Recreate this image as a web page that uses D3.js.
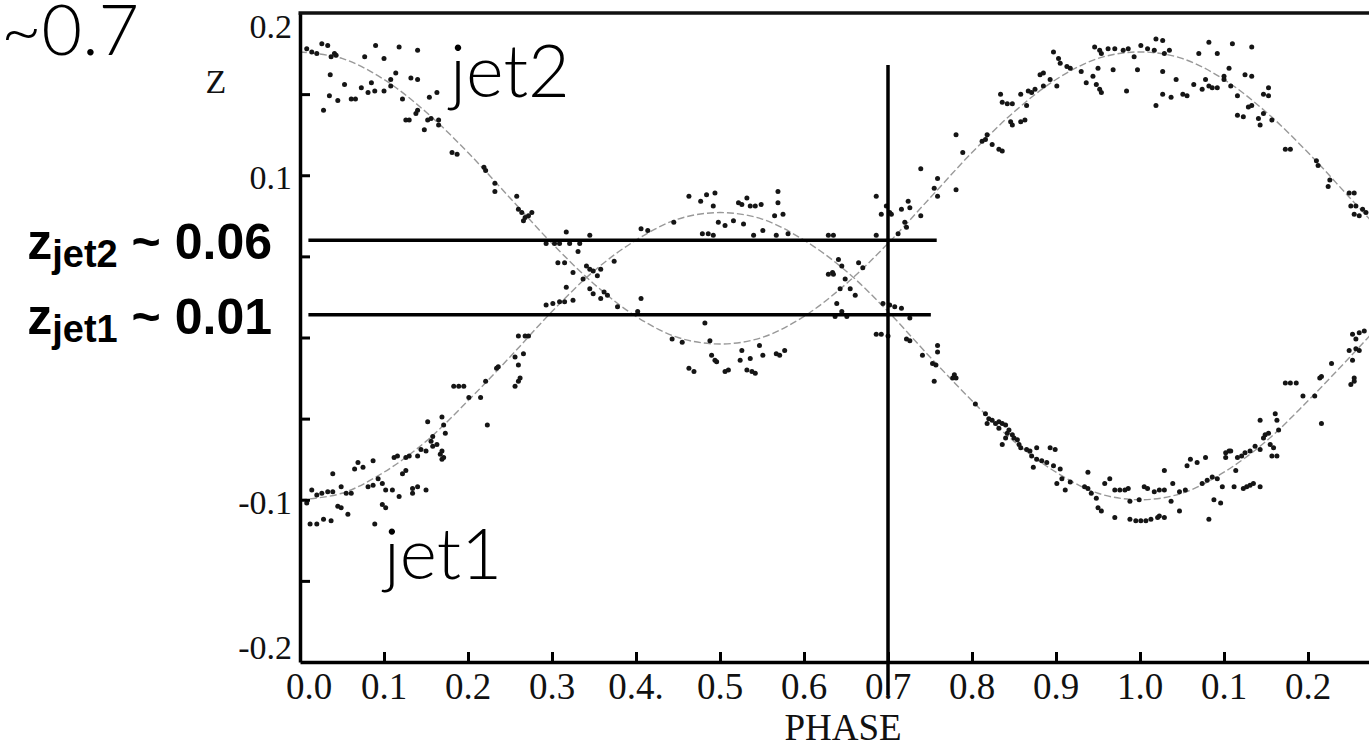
<!DOCTYPE html>
<html>
<head>
<meta charset="utf-8">
<script src="https://cdn.jsdelivr.net/npm/d3@7"></script>
<style>
  body { margin: 0; background: #fff; }
  svg { display: block; }
  .tick-label { font-family: "Liberation Serif", "Times New Roman", serif; fill: #111; }
  .thin { font-family: Lato, Roboto, "Open Sans", sans-serif; font-weight: 300; fill: #000; }
  .bold { font-family: "Liberation Sans", Arial, sans-serif; font-weight: 700; fill: #000; }
</style>
</head>
<body>
<svg id="svg1" width="1369" height="747"></svg>
<script>
// ---- data ----
const phaseTicks = [0, 0.1, 0.2, 0.3, 0.4, 0.5, 0.6, 0.7, 0.8, 0.9, 1.0, 1.1, 1.2];
const phaseTickLabels = ["0.0", "0.1", "0.2", "0.3", "0.4.", "0.5", "0.6", "0.7", "0.8", "0.9", "1.0", "0.1", "0.2"];
const zTicks = [-0.15, -0.1, -0.05, 0, 0.05, 0.1, 0.15];
const zLabelValues = [0.2, 0.1, -0.1, -0.2];
const zLabels = ["0.2", "0.1", "-0.1", "-0.2"];

// fitted model curves, sampled every 0.05 in phase
const fitPhase = [0, 0.05, 0.1, 0.15, 0.2, 0.25, 0.3, 0.35, 0.4, 0.45, 0.5, 0.55, 0.6, 0.65, 0.7,
  0.75, 0.8, 0.85, 0.9, 0.95, 1.0, 1.05, 1.1, 1.15, 1.2, 1.25, 1.3];
const jet2Fit = [0.176, 0.172, 0.159, 0.139, 0.114, 0.086, 0.058, 0.033, 0.013, 0.000, -0.004, 0.000, 0.013, 0.033,
  0.058, 0.086, 0.114, 0.139, 0.159, 0.172, 0.176, 0.172, 0.159, 0.139, 0.114, 0.086, 0.058];
const jet1Fit = [-0.100, -0.096, -0.083, -0.064, -0.039, -0.012, 0.016, 0.041, 0.060, 0.073, 0.077, 0.073, 0.060, 0.041,
  0.016, -0.012, -0.039, -0.064, -0.083, -0.096, -0.100, -0.096, -0.083, -0.064, -0.039, -0.012, 0.016];

// observed redshifts [phase, z]
const jet2Obs = [
  [0.008,0.178],[0.014,0.176],[0.020,0.175],[0.026,0.181],[0.033,0.180],[0.037,0.173],[0.041,0.175],[0.043,0.174],
  [0.077,0.173],[0.090,0.180],[0.100,0.172],[0.118,0.179],[0.140,0.177],[0.036,0.162],[0.053,0.156],[0.073,0.154],
  [0.085,0.157],[0.081,0.151],[0.089,0.152],[0.100,0.152],[0.108,0.159],[0.108,0.155],[0.114,0.163],[0.132,0.160],
  [0.140,0.159],[0.035,0.149],[0.045,0.146],[0.061,0.147],[0.066,0.147],[0.028,0.140],[0.122,0.147],[0.126,0.134],
  [0.130,0.134],[0.140,0.140],[0.138,0.138],[0.148,0.128],[0.152,0.134],[0.156,0.135],[0.165,0.131],[0.165,0.134],
  [0.154,0.148],[0.163,0.151],
  [0.181,0.114],[0.187,0.113],[0.219,0.105],[0.221,0.103],[0.232,0.095],[0.232,0.090],[0.258,0.087],[0.260,0.079],
  [0.264,0.077],[0.268,0.074],[0.266,0.072],[0.276,0.077],[0.272,0.075],
  [0.293,0.058],[0.303,0.058],[0.309,0.058],[0.321,0.058],[0.333,0.058],[0.317,0.065],[0.345,0.063],[0.331,0.053],
  [0.307,0.046],[0.315,0.046],[0.341,0.044],[0.345,0.042],[0.349,0.041],[0.358,0.042],[0.354,0.038],[0.345,0.030],
  [0.349,0.027],[0.362,0.028],[0.366,0.026],[0.378,0.019],[0.358,0.024],[0.402,0.016],[0.406,0.024],
  [0.443,-0.001],[0.455,-0.003],[0.482,0.009],[0.488,-0.002],[0.463,-0.019],[0.469,-0.021],[0.490,-0.011],[0.494,-0.014],
  [0.496,-0.015],[0.506,-0.021],[0.510,-0.020],[0.526,-0.008],[0.524,-0.014],[0.536,-0.013],[0.532,-0.020],[0.538,-0.021],
  [0.542,-0.022],[0.547,-0.005],[0.551,-0.011],[0.567,-0.010],[0.571,-0.011],[0.577,-0.008],[0.637,0.013],
  [0.686,0.087],[0.692,0.076],[0.698,0.081],[0.702,0.077],[0.704,0.076],[0.716,0.079],[0.724,0.084],[0.726,0.080],
  [0.720,0.071],[0.722,0.068],[0.712,0.064],[0.686,0.063],[0.739,0.075],
  [0.739,0.104],[0.759,0.098],[0.755,0.092],[0.759,0.087],[0.781,0.091],[0.781,0.125],[0.789,0.114],[0.812,0.121],
  [0.818,0.125],[0.816,0.122],[0.824,0.119],[0.832,0.116],[0.836,0.115],[0.834,0.150],[0.836,0.145],[0.842,0.144],
  [0.848,0.144],[0.858,0.150],[0.865,0.143],[0.846,0.133],[0.848,0.131],[0.858,0.133],[0.863,0.134],[0.867,0.152],
  [0.871,0.151],[0.875,0.153],[0.885,0.155],[0.881,0.162],[0.885,0.163],[0.893,0.159],[0.901,0.155],[0.897,0.176],
  [0.903,0.172],[0.905,0.169],[0.913,0.167],[0.917,0.166],[0.930,0.164],[0.936,0.157],[0.944,0.161],[0.948,0.156],
  [0.952,0.153],[0.954,0.151],[0.950,0.166],[0.968,0.165],[0.984,0.152],[0.997,0.165],
  [0.946,0.179],[0.952,0.177],[0.954,0.175],[0.962,0.178],[0.970,0.178],[0.980,0.177],[0.986,0.178],[0.993,0.173],
  [1.001,0.180],[1.009,0.178],[1.017,0.177],[1.019,0.184],[1.027,0.183],[1.029,0.175],[1.035,0.177],[1.027,0.164],
  [1.019,0.143],[1.027,0.150],[1.037,0.148],[1.043,0.159],[1.051,0.150],[1.056,0.149],[1.064,0.156],[1.070,0.175],
  [1.074,0.153],[1.078,0.159],[1.082,0.155],[1.082,0.182],[1.086,0.154],[1.092,0.175],[1.092,0.154],[1.100,0.161],
  [1.100,0.159],[1.106,0.166],[1.108,0.155],[1.110,0.181],[1.125,0.162],[1.133,0.179],[1.133,0.161],[1.116,0.149],
  [1.129,0.142],[1.133,0.143],[1.116,0.137],[1.123,0.136],[1.141,0.135],[1.143,0.131],[1.147,0.138],[1.147,0.150],
  [1.153,0.154],[1.153,0.149],[1.157,0.134],[1.173,0.116],[1.179,0.116],[1.210,0.109],[1.212,0.106],[1.224,0.093],
  [1.226,0.097],[1.249,0.089],[1.255,0.089],[1.251,0.081],[1.257,0.081],[1.255,0.076],[1.261,0.075],[1.265,0.079],
  [1.269,0.077]
];

const jet1Obs = [
  [0.008,-0.102],[0.014,-0.094],[0.020,-0.097],[0.026,-0.096],[0.033,-0.095],[0.039,-0.084],[0.039,-0.095],[0.049,-0.092],
  [0.055,-0.096],[0.061,-0.096],[0.065,-0.081],[0.069,-0.077],[0.075,-0.080],[0.087,-0.076],[0.081,-0.092],[0.087,-0.091],
  [0.093,-0.087],[0.098,-0.090],[0.102,-0.094],[0.110,-0.094],[0.112,-0.074],[0.116,-0.073],[0.118,-0.098],[0.122,-0.084],
  [0.126,-0.082],[0.126,-0.074],[0.130,-0.073],[0.134,-0.096],[0.134,-0.093],[0.140,-0.092],[0.144,-0.069],[0.140,-0.073],
  [0.150,-0.094],[0.150,-0.070],[0.156,-0.064],[0.158,-0.061],[0.158,-0.067],[0.163,-0.066],[0.167,-0.072],[0.169,-0.075],
  [0.171,-0.074],[0.169,-0.070],[0.169,-0.049],[0.171,-0.054],[0.173,-0.059],[0.152,-0.052],[0.012,-0.115],[0.020,-0.115],
  [0.028,-0.112],[0.037,-0.113],[0.045,-0.104],[0.049,-0.105],[0.057,-0.109],[0.098,-0.103],[0.102,-0.105],[0.089,-0.115],
  [0.183,-0.030],[0.189,-0.030],[0.195,-0.030],[0.201,-0.037],[0.215,-0.037],[0.221,-0.027],[0.223,-0.054],[0.234,-0.019],
  [0.236,-0.018],[0.256,-0.030],[0.260,-0.027],[0.262,-0.025],[0.260,-0.017],[0.256,-0.012],[0.266,-0.010],
  [0.260,0.001],[0.268,0.001],[0.272,0.001],
  [0.293,0.020],[0.301,0.021],[0.309,0.022],[0.315,0.022],[0.325,0.023],[0.317,0.031],[0.337,0.036],[0.325,0.040],
  [0.374,0.047],
  [0.406,0.067],[0.414,0.066],[0.445,0.071],[0.463,0.087],[0.477,0.084],[0.484,0.088],[0.494,0.089],[0.492,0.081],
  [0.479,0.064],[0.486,0.064],[0.492,0.063],[0.498,0.071],[0.506,0.069],[0.522,0.083],[0.526,0.082],[0.532,0.086],
  [0.536,0.081],[0.542,0.081],[0.549,0.082],[0.569,0.090],[0.569,0.083],[0.565,0.075],[0.575,0.076],[0.516,0.072],
  [0.528,0.070],[0.540,0.063],[0.551,0.066],[0.567,0.063],[0.581,0.064],[0.634,0.040],
  [0.629,0.063],[0.635,0.063],[0.629,0.039],[0.635,0.039],
  [0.641,0.048],[0.645,0.044],[0.649,0.036],[0.655,0.030],[0.661,0.026],[0.665,0.046],[0.670,0.043],[0.643,0.030],
  [0.639,0.021],[0.645,0.016],[0.651,0.013],[0.694,0.021],[0.702,0.020],[0.708,0.019],[0.716,0.018],[0.726,0.012],
  [0.686,0.002],[0.692,0.002],[0.700,0.001],[0.722,-0.001],[0.726,-0.002],
  [0.741,-0.011],[0.759,-0.005],[0.759,-0.009],[0.753,-0.016],[0.757,-0.017],[0.755,-0.027],[0.779,-0.023],[0.781,-0.025],
  [0.777,-0.025],[0.804,-0.041],[0.816,-0.047],[0.820,-0.050],[0.818,-0.053],[0.824,-0.051],[0.828,-0.053],[0.832,-0.052],
  [0.836,-0.053],[0.840,-0.054],[0.832,-0.056],[0.836,-0.066],[0.840,-0.062],[0.842,-0.059],[0.844,-0.057],[0.848,-0.060],
  [0.850,-0.062],[0.854,-0.063],[0.856,-0.066],[0.858,-0.068],[0.865,-0.069],[0.869,-0.070],[0.871,-0.073],[0.877,-0.068],
  [0.873,-0.080],[0.877,-0.075],[0.883,-0.076],[0.889,-0.077],[0.893,-0.068],[0.899,-0.069],[0.897,-0.079],[0.905,-0.081],
  [0.901,-0.090],[0.907,-0.087],[0.911,-0.094],[0.917,-0.089],[0.934,-0.092],[0.938,-0.083],[0.938,-0.093],[0.942,-0.096],
  [0.948,-0.099],[0.950,-0.105],[0.954,-0.107],[0.958,-0.090],[0.964,-0.087],[0.970,-0.094],[0.976,-0.094],[0.982,-0.094],
  [0.986,-0.093],[0.988,-0.101],[0.999,-0.100],[0.970,-0.111],[0.988,-0.112],[0.995,-0.113],[1.001,-0.113],[1.007,-0.113],
  [1.013,-0.112],[1.021,-0.111],[1.023,-0.110],[1.029,-0.111],[1.005,-0.092],[1.009,-0.093],[1.017,-0.095],[1.023,-0.094],
  [1.029,-0.094],[1.029,-0.082],[1.037,-0.101],[1.039,-0.090],[1.047,-0.107],[1.047,-0.095],[1.054,-0.094],[1.056,-0.079],
  [1.060,-0.075],[1.068,-0.077],[1.078,-0.074],[1.074,-0.090],[1.080,-0.088],[1.086,-0.086],[1.088,-0.100],[1.096,-0.102],
  [1.092,-0.087],[1.098,-0.092],[1.102,-0.071],[1.106,-0.070],[1.102,-0.074],[1.108,-0.070],[1.114,-0.082],[1.116,-0.074],
  [1.121,-0.073],[1.125,-0.071],[1.131,-0.070],[1.112,-0.092],[1.123,-0.093],[1.127,-0.092],[1.131,-0.091],[1.135,-0.090],
  [1.143,-0.092],[1.082,-0.112],[1.137,-0.067],[1.143,-0.069],[1.143,-0.051],[1.147,-0.062],[1.149,-0.060],[1.153,-0.059],
  [1.155,-0.066],[1.159,-0.068],[1.161,-0.047],[1.163,-0.051],[1.165,-0.057],[1.157,-0.073],[1.163,-0.073],[1.173,-0.028],
  [1.179,-0.028],[1.186,-0.028],[1.194,-0.036],[1.208,-0.036],[1.214,-0.025],[1.216,-0.024],[1.216,-0.053],[1.228,-0.016],
  [1.249,-0.008],[1.251,-0.029],[1.253,-0.014],[1.255,-0.025],[1.255,-0.027],[1.257,-0.007],[1.261,-0.008],[1.253,0.002],
  [1.261,0.003],[1.267,0.004],[1.257,-0.001]
];

// annotation: phase ~0.7 and the two redshift readings
const markerPhase = 0.7;
const markerZ = [0.06, 0.014];
const markerText = [["jet2", " ~ 0.06"], ["jet1", " ~ 0.01"]];

const svg1 = d3.select("#svg1");
const width1 = +svg1.attr("width");
const height1 = +svg1.attr("height");

const render = function() {
  const plotLeft = 300;   // left axis
  const xScale = d3.scaleLinear().domain([0, 1]).range([plotLeft, 1140]);
  const yScale = d3.scaleLinear().domain([-0.2, 0.2]).range([662, 13]);
  const xMax = xScale.invert(width1);

  svg1.append("clipPath").attr("id", "plotclip")
    .append("rect")
      .attr("x", plotLeft).attr("y", yScale(0.2))
      .attr("width", width1 - plotLeft).attr("height", yScale(-0.2) - yScale(0.2));

  const a = svg1.append("g");

  /* fitted curves, thin grey dashes */
  const fitLine = d3.line()
    .x((d, i) => xScale(fitPhase[i]))
    .y(d => yScale(d))
    .curve(d3.curveCatmullRom);

  const curves = a.append("g").attr("clip-path", "url(#plotclip)");
  [jet1Fit, jet2Fit].forEach(series => {
    curves.append("path")
      .attr("d", fitLine(series))
      .attr("fill", "none")
      .attr("stroke", "#999")
      .attr("stroke-width", 1.4)
      .attr("stroke-dasharray", "7,3");
  });

  /* data points */
  const dots = a.append("g").attr("clip-path", "url(#plotclip)");
  dots.selectAll("circle").data(jet2Obs.concat(jet1Obs))
    .enter().append("circle")
      .attr("cx", d => xScale(d[0]))
      .attr("cy", d => yScale(d[1]))
      .attr("r", 2.5)
      .attr("fill", "#151515");

  /* axes: ticks point inward */
  const xAxis = d3.axisBottom(xScale.copy().domain([0, xMax]).range([plotLeft, width1]))
    .tickValues(phaseTicks)
    .tickSize(-10)
    .tickSizeOuter(0)
    .tickFormat("");
  const xAxisA = a.append("g").call(xAxis)
    .attr("transform", `translate(0, ${yScale(-0.2)})`);

  const yAxis = d3.axisLeft(yScale)
    .tickValues(zTicks)
    .tickSize(-10)
    .tickSizeOuter(0)
    .tickFormat("");
  const yAxisA = a.append("g").call(yAxis)
    .attr("transform", `translate(${plotLeft}, 0)`);

  [xAxisA, yAxisA].forEach(g => {
    g.select(".domain").attr("stroke", "#000").attr("stroke-width", 3.5);
    g.selectAll(".tick line").attr("stroke", "#000").attr("stroke-width", 3);
  });

  // top border of the frame
  a.append("line")
    .attr("x1", plotLeft - 1.5).attr("x2", width1)
    .attr("y1", yScale(0.2)).attr("y2", yScale(0.2))
    .attr("stroke", "#111").attr("stroke-width", 3.5);

  /* tick labels */
  a.selectAll(".xlab").data(phaseTicks)
    .enter().append("text")
      .attr("class", "tick-label xlab")
      .attr("x", (d, i) => xScale(d) + (i === 0 ? 9 : 0))
      .attr("y", yScale(-0.2) + 37)
      .attr("text-anchor", "middle")
      .attr("font-size", 37)
      .text((d, i) => phaseTickLabels[i]);

  a.selectAll(".ylab").data(zLabelValues)
    .enter().append("text")
      .attr("class", "tick-label ylab")
      .attr("x", plotLeft - 8)
      .attr("y", d => Math.max(38, Math.min(yScale(d) + 14, 659)))
      .attr("text-anchor", "end")
      .attr("font-size", 34)
      .text((d, i) => zLabels[i]);

  a.append("text")
    .attr("class", "tick-label")
    .attr("x", 216).attr("y", 93)
    .attr("text-anchor", "middle")
    .attr("font-size", 34)
    .text("Z");

  a.append("text")
    .attr("class", "tick-label")
    .attr("x", 843).attr("y", 740)
    .attr("text-anchor", "middle")
    .attr("font-size", 37)
    .text("PHASE");

  /* annotation lines */
  markerZ.forEach((z, i) => {
    a.append("line")
      .attr("x1", xScale(0.01)).attr("x2", xScale(i === 0 ? 0.758 : 0.751))
      .attr("y1", yScale(z)).attr("y2", yScale(z))
      .attr("stroke", "#000").attr("stroke-width", 3.5);
  });
  a.append("line")
    .attr("x1", xScale(markerPhase)).attr("x2", xScale(markerPhase))
    .attr("y1", yScale(0.168)).attr("y2", yScale(-0.2) + 33)
    .attr("stroke", "#000").attr("stroke-width", 3.5);

  /* annotation text */
  markerZ.forEach((z, i) => {
    const t = a.append("text")
      .attr("class", "bold")
      .attr("x", 272)
      .attr("y", yScale(z) + 19)
      .attr("text-anchor", "end")
      .attr("font-size", 50);
    t.append("tspan").text("z");
    t.append("tspan").attr("font-size", 38).attr("dy", 8).text(markerText[i][0]);
    t.append("tspan").attr("dy", -8).text(markerText[i][1]);
  });

  a.append("text").attr("class", "thin")
    .attr("x", 1).attr("y", 55).attr("font-size", 70)
    .text("~0.7");
  a.append("text").attr("class", "thin")
    .attr("x", 450).attr("y", 97).attr("font-size", 72)
    .text("jet2");
  a.append("text").attr("class", "thin")
    .attr("x", 384).attr("y", 579).attr("font-size", 71)
    .text("jet1");
};

render();
</script>
</body>
</html>
